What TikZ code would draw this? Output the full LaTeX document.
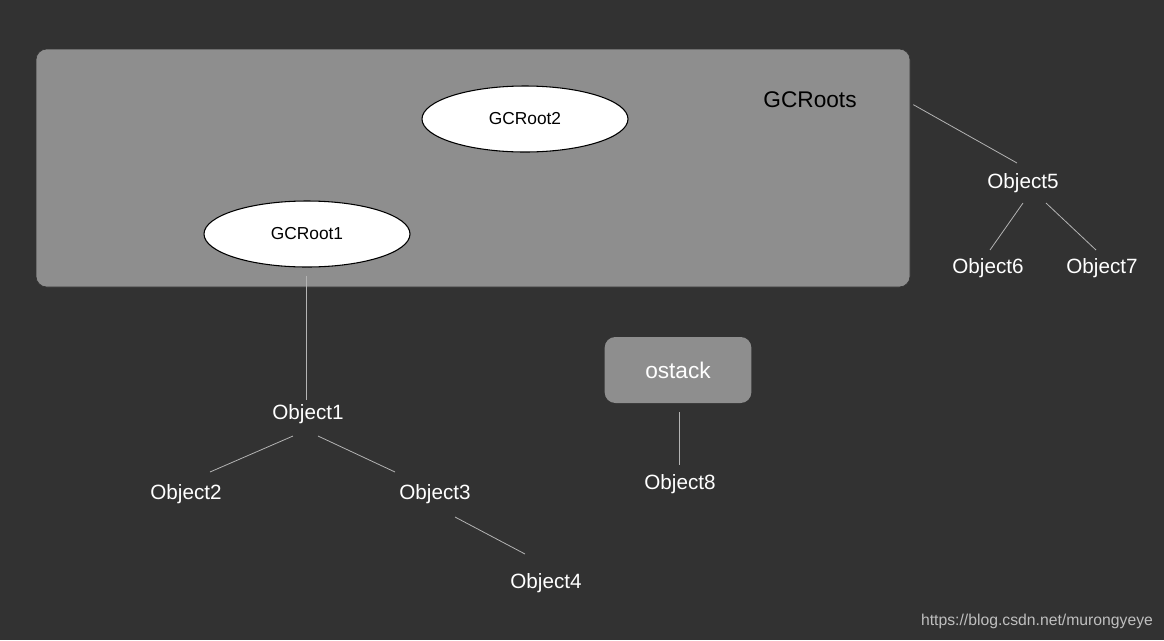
\documentclass[tikz,border=0pt]{standalone}
\usepackage{fontspec}
\setmainfont{Liberation Sans}
\usetikzlibrary{shapes.geometric}
\definecolor{bgdark}{HTML}{323232}
\definecolor{boxgray}{HTML}{8E8E8E}
\definecolor{linkgray}{HTML}{B4B4B4}
\begin{document}
\begin{tikzpicture}[x=0.75pt,y=-0.75pt,
  link/.style={draw=linkgray,line width=0.6pt},
  obj/.style={inner sep=0pt,text=white,font=\fontsize{15.5}{18}\selectfont},
  root/.style={ellipse,draw=black,fill=white,line width=0.8pt,minimum width=154.5pt,minimum height=49.5pt,inner sep=0pt,font=\fontsize{13}{15}\selectfont}]
\fill[bgdark] (0,0) rectangle (1164,640); % background, fixes the margins
\node[draw=black!80,fill=boxgray,rounded corners=8pt,line width=0.5pt,
  minimum width=655.5pt,minimum height=178.5pt] (box) at (473,168) {};
\node[font=\fontsize{17}{20}\selectfont] (gcroots) at (810,100) {GCRoots};
\node[root] (gcroot2) at (525,119) {GCRoot2};
\node[root] (gcroot1) at (307,234) {GCRoot1};
\node[fill=boxgray,rounded corners=8pt,minimum width=110pt,minimum height=49.5pt,
  text=white,font=\fontsize{17}{20}\selectfont] (ostack) at (678,370) {ostack};
% the objects
\node[obj] (obj1) at (308,414) {Object1};
\node[obj] (obj2) at (186,494) {Object2};
\node[obj] (obj3) at (435,494) {Object3};
\node[obj] (obj4) at (546,583) {Object4};
\node[obj] (obj5) at (1023,183) {Object5};
\node[obj] (obj6) at (988,268) {Object6};
\node[obj] (obj7) at (1102,268) {Object7};
\node[obj] (obj8) at (680,484) {Object8};
\node[text=black!25,font=\fontsize{11.8}{14}\selectfont] (url) at (1037,621) {https://blog.csdn.net/murongyeye};
% edit here for the links
\draw[link] ([shift={(-1,8)}]gcroot1.south) -- ([shift={(-2,-14)}]obj1.center);
\draw[link] ([shift={(-15,22)}]obj1.center) -- ([shift={(24,-22)}]obj2.center);
\draw[link] ([shift={(10,22)}]obj1.center) -- ([shift={(-40,-22)}]obj3.center);
\draw[link] ([shift={(20,23)}]obj3.center) -- ([shift={(-21,-29)}]obj4.center);
\draw[link] ([shift={(3,56)}]box.north east) -- ([shift={(-6,-20)}]obj5.center);
\draw[link] ([shift={(0,20)}]obj5.center) -- ([shift={(2,-18)}]obj6.center);
\draw[link] ([shift={(23,20)}]obj5.center) -- ([shift={(-6,-18)}]obj7.center);
\draw[link] ([shift={(1,9)}]ostack.south) -- ([shift={(-1,-19)}]obj8.center);
\end{tikzpicture}
\end{document}
